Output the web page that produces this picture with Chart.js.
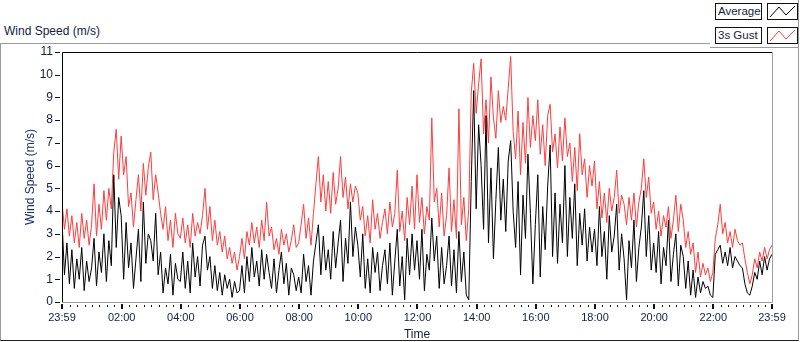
<!DOCTYPE html>
<html>
<head>
<meta charset="utf-8">
<script src="https://cdn.jsdelivr.net/npm/chart.js@4.4.1/dist/chart.umd.min.js"></script>
<style>
  html, body { margin: 0; padding: 0; background: #fff; overflow: hidden; }
  #wrap { position: relative; width: 800px; height: 342px; font-family: "Liberation Sans", Arial, sans-serif; color: #141c44; }
  #frame { position: absolute; left: 0; top: 43px; width: 797px; height: 296px; border: 1px solid #9a9a9a; border-bottom-color: #222; }
  #title { position: absolute; left: 4px; top: 24px; font-size: 12px; line-height: 14px; }
  #legend { position: absolute; left: 710px; top: 0; width: 88px; height: 47px; background: #fff; border-right: 1px solid #9a9a9a; border-bottom: 1px solid #9a9a9a; z-index: 2; }
  .lbl { position: absolute; left: 5px; width: 47px; height: 17px; border: 1px solid #111; box-sizing: border-box; font-size: 11.5px; line-height: 15px; padding-left: 2px; background: #fff; }
  .icon { position: absolute; left: 57px; width: 31px; height: 17px; border: 1px solid #111; box-sizing: border-box; background: #fff; }
  .icon svg { position: absolute; left: 0; top: 0; }
  canvas { position: absolute; left: 0; top: 0; z-index: 1; }
</style>
</head>
<body>
<div id="wrap">
  <div id="frame"></div>
  <div id="title">Wind Speed (m/s)</div>
  <div id="legend">
    <div class="lbl" style="top:3px">Average</div>
    <div class="icon" style="top:3px"><svg width="29" height="15"><polyline points="2,13 11,3 18,11 27,2" fill="none" stroke="#000" stroke-width="1"/></svg></div>
    <div class="lbl" style="top:27px">3s Gust</div>
    <div class="icon" style="top:27px"><svg width="29" height="15"><polyline points="2,13 11,3 18,11 27,2" fill="none" stroke="#ff3c3c" stroke-width="1"/></svg></div>
  </div>
  <canvas id="chart" width="800" height="342"></canvas>
</div>
<script>
// one sample every 5 minutes, starting 23:59
const sampleMinutes = 5;

const avgSpeed = [
  3.6, 1.2, 2.6, 0.8, 2.3, 0.6, 1.9, 1.0, 2.4, 0.5, 1.8, 0.9,
  1.5, 2.8, 0.7, 2.2, 1.3, 3.0, 0.9, 2.7, 1.6, 5.6, 2.4, 4.6,
  3.8, 1.0, 3.5, 1.5, 2.6, 0.6, 1.9, 3.2, 0.9, 4.4, 1.7, 3.0,
  2.7, 1.8, 3.9, 1.2, 2.2, 0.4, 1.5, 0.8, 2.1, 0.3, 1.7, 1.0,
  0.9, 2.2, 0.6, 1.8, 0.4, 2.6, 1.1, 2.0, 0.7, 2.5, 2.9, 1.4,
  2.0, 0.6, 1.6, 0.5, 1.3, 0.3, 1.2, 0.6, 1.0, 0.2, 0.9, 0.4,
  0.5, 1.6, 0.4, 2.0, 0.9, 2.4, 1.1, 1.8, 0.7, 2.3, 1.0, 2.1,
  1.3, 0.6, 1.9, 0.4, 1.4, 2.2, 0.8, 1.7, 0.3, 1.5, 1.2, 0.5,
  1.1, 0.4, 2.1, 0.9, 1.6, 0.3, 1.8, 2.6, 3.4, 1.2, 2.9, 1.4,
  2.3, 1.0, 3.1, 1.5, 2.6, 3.6, 0.9, 2.8, 1.7, 4.4, 2.0, 3.3,
  2.5, 1.1, 3.0, 0.6, 1.9, 0.4, 2.4, 1.3, 2.2, 0.5, 1.6, 2.3,
  0.8, 2.6, 0.3, 1.8, 3.2, 0.7, 2.0, 0.1, 2.8, 1.2, 3.0, 1.4,
  2.7, 1.0, 3.2, 0.5, 2.1, 1.4, 3.7, 1.8, 2.9, 0.6, 2.4, 0.8,
  1.6, 2.9, 0.7, 2.3, 0.4, 3.1, 0.9, 2.2, 0.3, 0.1, 5.3, 9.3,
  4.1, 7.8, 6.0, 3.2, 8.2, 2.6, 5.9, 1.9, 4.5, 6.8, 3.6, 5.4,
  3.1, 6.2, 7.1, 4.0, 2.4, 5.3, 1.2, 4.7, 2.8, 6.5, 3.9, 0.8,
  3.4, 5.6, 1.1, 4.2, 2.3, 5.1, 6.9, 2.0, 4.8, 1.7, 4.3, 2.6,
  6.0, 2.0, 4.6, 2.8, 5.2, 1.6, 3.9, 2.5, 4.1, 1.8, 3.3, 2.2,
  3.2, 1.6, 4.2, 2.0, 3.1, 1.0, 3.8, 2.2, 2.9, 4.3, 1.4, 3.0,
  1.9, 0.1, 2.7, 1.5, 3.6, 0.9, 2.4, 3.3, 4.9, 2.0, 3.8, 1.4,
  2.6, 1.3, 3.1, 0.8, 2.4, 1.6, 3.6, 0.9, 2.1, 3.0, 0.7, 2.5,
  2.0, 0.6, 1.8, 0.3, 1.4, 0.2, 1.1, 0.4, 0.9, 0.6, 0.7, 0.3,
  0.2, 2.1, 2.3, 2.5, 1.7, 2.2, 1.6, 2.4, 1.5, 2.0, 1.8, 1.6,
  1.5, 0.8, 0.4, 0.3, 0.7, 1.3, 1.0, 1.8, 1.2, 2.0, 1.4, 1.9,
  2.1
];

const gustSpeed = [
  4.4, 3.2, 4.1, 2.9, 3.8, 2.6, 3.5, 2.4, 3.9, 2.8, 3.6, 2.5,
  3.4, 5.2, 2.9, 4.3, 3.2, 4.9, 3.6, 5.0, 4.1, 6.6, 7.6, 5.4,
  7.3, 5.6, 6.4, 4.2, 4.8, 3.3, 4.5, 5.6, 4.0, 6.1, 4.7, 5.9,
  6.6, 4.5, 5.6, 4.8, 3.9, 3.2, 4.2, 2.7, 3.6, 2.4, 3.9, 3.0,
  2.8, 3.7, 2.6, 3.4, 2.4, 3.9, 2.9, 3.5, 3.0, 3.8, 5.0, 3.2,
  4.2, 2.7, 3.6, 2.5, 3.1, 2.2, 2.9, 1.9, 2.4, 1.7, 2.2, 1.4,
  2.0, 2.8, 1.9, 3.1, 2.5, 3.5, 2.6, 3.3, 2.4, 3.6, 2.7, 4.4,
  2.9, 3.3, 2.3, 2.8, 2.1, 3.2, 2.5, 3.0, 2.2, 2.7, 3.4, 2.4,
  2.6, 3.4, 4.3, 2.8, 3.7, 2.5, 3.9, 5.2, 6.4, 4.4, 5.6, 4.0,
  5.3, 3.9, 5.7, 4.3, 5.0, 6.4, 4.6, 5.5, 4.1, 5.2, 4.4, 5.1,
  4.8, 3.6, 4.2, 2.9, 3.8, 2.6, 4.5, 3.2, 3.9, 2.8, 3.5, 4.1,
  3.0, 4.4, 3.3, 3.9, 5.8, 3.1, 4.0, 2.7, 4.6, 3.4, 5.1, 3.2,
  5.6, 3.5, 4.6, 3.0, 4.2, 3.6, 8.1, 4.4, 5.0, 3.3, 4.8, 2.9,
  3.8, 5.9, 3.1, 4.5, 2.8, 8.5, 3.4, 4.6, 2.7, 4.1, 9.2, 10.5,
  8.3, 9.6, 10.7, 7.4, 8.9, 7.0, 9.9, 8.1, 7.2, 9.3, 7.9, 8.6,
  8.0, 9.4, 10.8, 7.5, 6.3, 8.4, 5.6, 7.9, 6.1, 9.0, 6.8, 8.2,
  7.1, 8.9, 6.5, 7.8, 6.0, 8.2, 8.7, 6.6, 7.4, 5.9, 7.7, 6.2,
  8.1, 6.4, 7.0, 5.3, 6.8, 4.9, 7.4, 5.6, 6.3, 4.6, 6.0, 5.1,
  6.2, 4.1, 5.3, 3.7, 4.8, 3.5, 5.0, 4.0, 4.6, 5.8, 3.9, 4.7,
  4.3, 3.4, 4.6, 3.6, 4.8, 3.3, 4.4, 5.0, 6.3, 4.6, 5.5, 3.9,
  4.4, 3.2, 4.0, 2.9, 3.8, 3.3, 4.2, 2.8, 3.6, 4.7, 3.1, 4.3,
  3.6, 2.4, 3.1, 2.1, 2.6, 1.3, 2.2, 1.1, 1.7, 1.2, 1.5, 0.9,
  1.3, 2.8, 3.4, 4.3, 3.0, 3.5, 2.6, 3.1, 2.4, 3.2, 2.7, 2.5,
  2.6, 1.9, 1.3, 0.8, 1.2, 1.9, 1.5, 2.2, 1.8, 2.4, 1.9, 2.3,
  2.5
];

// minutes after 23:59 for labelled ticks
const majorTickMinutes = [0, 121, 241, 361, 481, 601, 721, 841, 961, 1081, 1201, 1321, 1440];
const majorTickLabels = ['23:59', '02:00', '04:00', '06:00', '08:00', '10:00', '12:00',
                         '14:00', '16:00', '18:00', '20:00', '22:00', '23:59'];
const minorTickStep = 15;
const yMin = 0;
const yMax = 11;

const textColor = '#141c44';

function toPoints(values) {
  return values.map((v, i) => ({ x: i * sampleMinutes, y: v }));
}

// all x tick positions: majors plus 15 minute minors on clock quarters
const allTicks = majorTickMinutes.slice();
for (let m = 16; m < 1440; m += minorTickStep) {
  if (!majorTickMinutes.includes(m)) allTicks.push(m);
}
allTicks.sort((a, b) => a - b);

const framePlugin = {
  id: 'frame',
  afterDraw(chart) {
    const { ctx, chartArea: a, scales } = chart;
    ctx.save();
    ctx.lineWidth = 1;
    // sunken frame: dark top/left, grey bottom/right
    ctx.strokeStyle = '#000';
    ctx.beginPath();
    ctx.moveTo(a.left + 0.5, a.bottom);
    ctx.lineTo(a.left + 0.5, a.top + 0.5);
    ctx.lineTo(a.right, a.top + 0.5);
    ctx.stroke();
    ctx.strokeStyle = '#a0a0a0';
    ctx.beginPath();
    ctx.moveTo(a.right + 0.5, a.top);
    ctx.lineTo(a.right + 0.5, a.bottom + 0.5);
    ctx.lineTo(a.left, a.bottom + 0.5);
    ctx.stroke();

    ctx.fillStyle = '#111';
    // x ticks
    scales.x.ticks.forEach(t => {
      const px = Math.round(scales.x.getPixelForValue(t.value));
      if (majorTickMinutes.includes(t.value)) {
        ctx.fillRect(px - 1, a.bottom + 2, 2, 5);
      } else {
        ctx.fillRect(px, a.bottom + 3, 1, 2);
      }
    });
    // y ticks
    scales.y.ticks.forEach(t => {
      const py = Math.round(scales.y.getPixelForValue(t.value));
      ctx.fillRect(a.left - 7, py, 5, 1);
    });
    ctx.restore();
  }
};

Chart.defaults.font.family = '"Liberation Sans", Arial, sans-serif';

new Chart(document.getElementById('chart'), {
  type: 'line',
  data: {
    datasets: [
      {
        label: 'Average',
        data: toPoints(avgSpeed),
        borderColor: '#000',
        borderWidth: 1,
        pointRadius: 0,
        tension: 0
      },
      {
        label: '3s Gust',
        data: toPoints(gustSpeed),
        borderColor: '#ff3c3c',
        borderWidth: 1,
        pointRadius: 0,
        tension: 0
      }
    ]
  },
  options: {
    responsive: false,
    animation: false,
    devicePixelRatio: 1,
    layout: { padding: { left: 0, top: 52, right: 28, bottom: 0 } },
    plugins: {
      legend: { display: false },
      tooltip: { enabled: false }
    },
    scales: {
      x: {
        type: 'linear',
        min: 0,
        max: 1440,
        border: { display: false },
        grid: { display: false, drawTicks: false },
        afterBuildTicks(scale) {
          scale.ticks = allTicks.map(v => ({ value: v }));
        },
        afterFit(scale) { scale.height = 40; },
        ticks: {
          autoSkip: false,
          maxRotation: 0,
          padding: 9,
          color: textColor,
          font: { size: 11 },
          callback(value) {
            const k = majorTickMinutes.indexOf(value);
            return k >= 0 ? majorTickLabels[k] : '';
          }
        },
        title: {
          display: true,
          text: 'Time',
          color: textColor,
          font: { size: 12 },
          padding: { top: 0, bottom: 0 }
        }
      },
      y: {
        min: yMin,
        max: yMax,
        border: { display: false },
        grid: { display: false, drawTicks: false },
        afterFit(scale) { scale.width = 62; },
        ticks: {
          stepSize: 1,
          padding: 9,
          color: textColor,
          font: { size: 12 }
        },
        title: {
          display: true,
          text: 'Wind Speed (m/s)',
          color: '#1c2f66',
          font: { size: 12 },
          padding: { top: 23, bottom: 0 }
        }
      }
    }
  },
  plugins: [framePlugin]
});
</script>
</body>
</html>
